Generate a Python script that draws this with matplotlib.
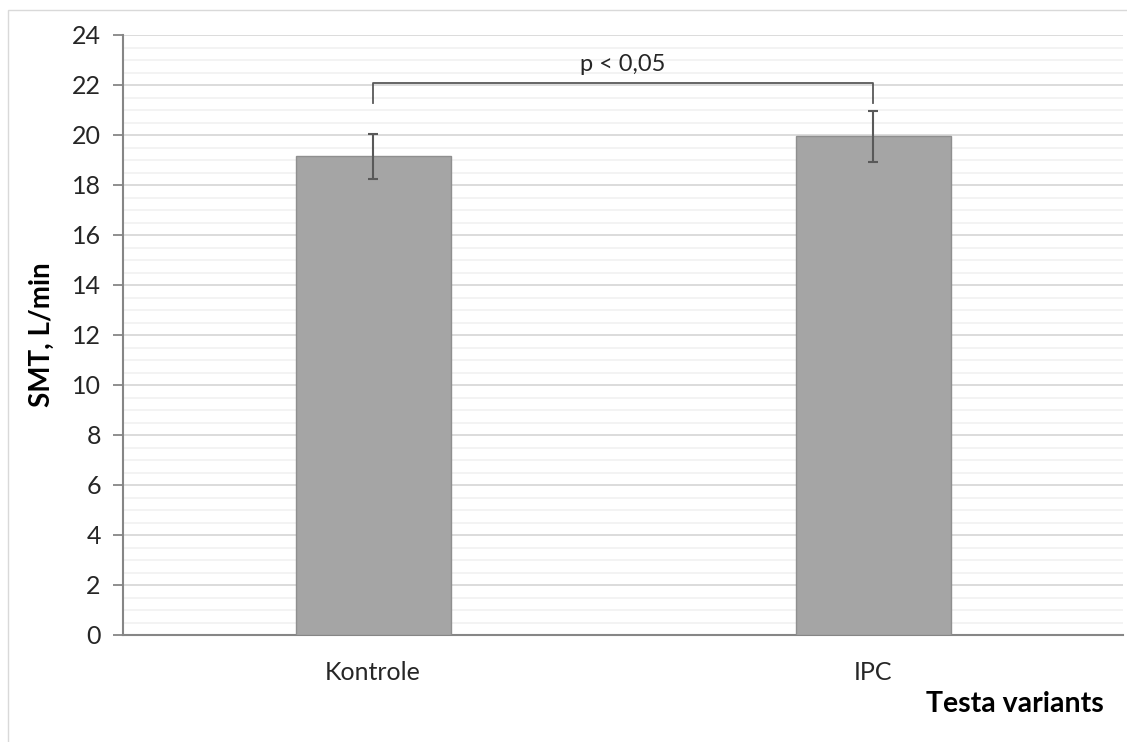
import matplotlib.pyplot as plt
from matplotlib.patches import Rectangle

categories = ["Kontrole", "IPC"]
means = [19.15, 19.95]
errors = [0.9, 1.02]
p_label = "p < 0,05"
bracket_top = 22.1
bracket_foot = 21.3

plt.rcParams["font.family"] = ["Lato", "DejaVu Sans"]

fig = plt.figure(figsize=(11.27, 7.42), dpi=100)
ax = fig.add_axes([123 / 1127, 107 / 742, 1000 / 1127, 600 / 742])

# light frame around the chart area
fig.patches.append(Rectangle((8 / 1127, -0.01), 1.1, (742 - 10) / 742 + 0.01,
                             transform=fig.transFigure, fill=False,
                             edgecolor="#d9d9d9", linewidth=1))

x = range(len(categories))
ax.bar(x, means, width=0.31, color="#a5a5a5", edgecolor="#8f8f8f",
       linewidth=1, zorder=3)
ax.errorbar(x, means, yerr=errors, fmt="none", ecolor="#595959",
            elinewidth=1.5, capsize=3.5, capthick=1.5, zorder=4)

# significance bracket
ax.plot([0, 0, 1, 1], [bracket_foot, bracket_top, bracket_top, bracket_foot],
        color="#595959", linewidth=1.3, zorder=4)
ax.text(0.5, bracket_top + 0.3, p_label, ha="center", va="bottom",
        fontsize=17, color="#262626")

ax.set_xlim(-0.5, 1.5)
ax.set_ylim(0, 24)
ax.set_yticks(range(0, 25, 2))
ax.set_yticks([v / 2 for v in range(0, 49)], minor=True)
ax.set_xticks(list(x))
ax.set_xticklabels(categories)

ax.grid(axis="y", which="major", color="#d9d9d9", linewidth=1.3, zorder=0)
ax.grid(axis="y", which="minor", color="#f2f2f2", linewidth=1.3, zorder=0)
ax.set_axisbelow(True)

for side in ["top", "right"]:
    ax.spines[side].set_visible(False)
for side in ["left", "bottom"]:
    ax.spines[side].set_color("#868686")
    ax.spines[side].set_linewidth(1.5)

ax.tick_params(axis="y", which="major", length=7, width=1.3, color="#868686",
               labelsize=18, labelcolor="#262626", pad=9)
ax.tick_params(axis="y", which="minor", length=0)
ax.tick_params(axis="x", length=0, labelsize=18, labelcolor="#262626", pad=19)

fig.text(42 / 1127, 1 - 335 / 742, "SMT, L/min", rotation=90, ha="center",
         va="center", fontsize=20, fontweight="bold", color="black")
fig.text(1104 / 1127, 1 - 704 / 742, "Testa variants", ha="right",
         va="center", fontsize=20.5, fontweight="bold", color="black")

fig.savefig("out.png", dpi=100, facecolor="white")
